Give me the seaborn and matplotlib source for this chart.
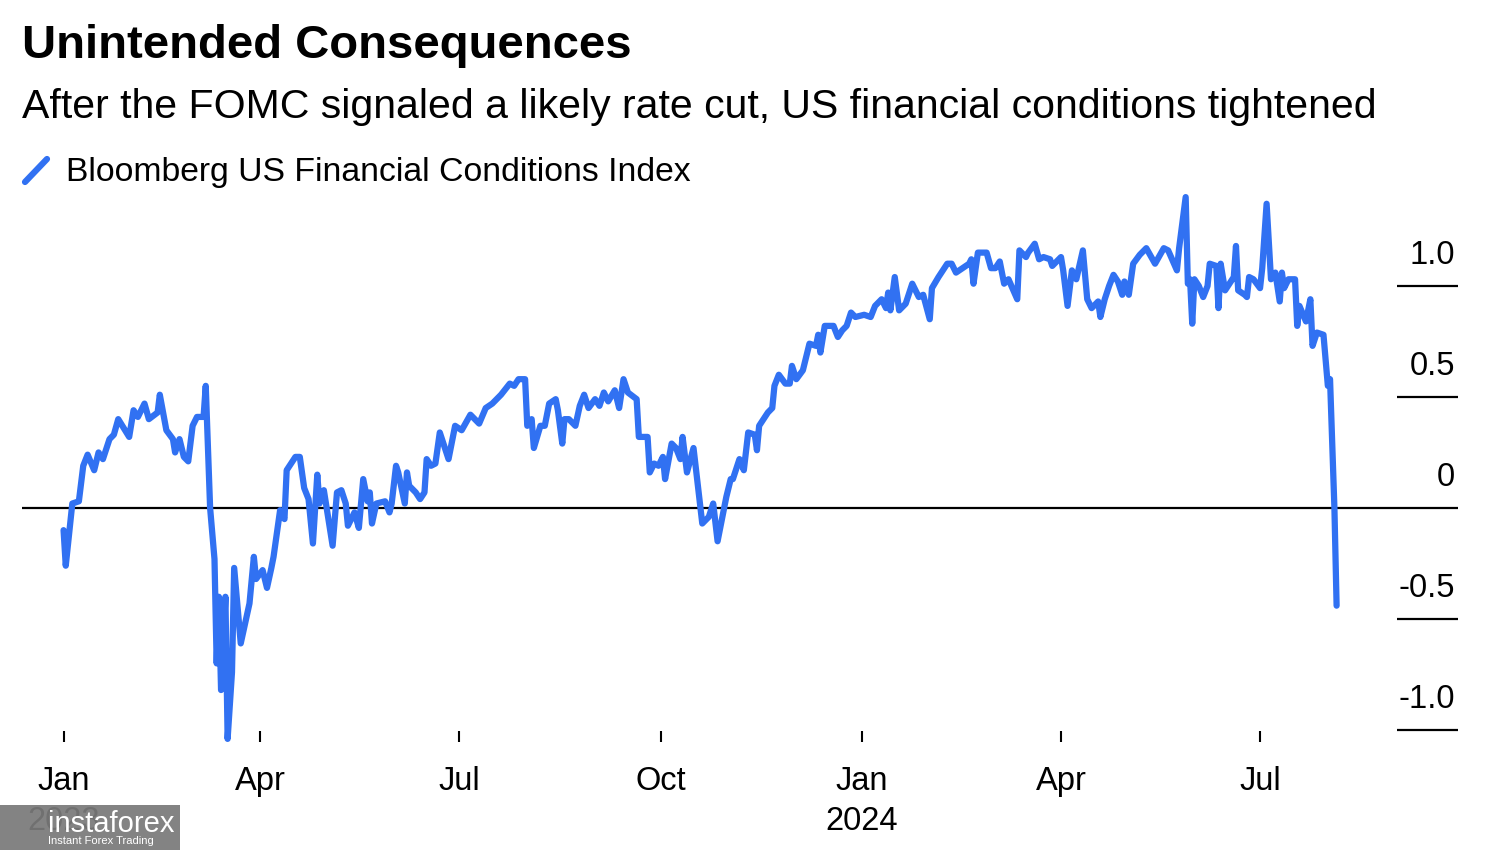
import matplotlib
matplotlib.use("Agg")
import matplotlib.pyplot as plt
import matplotlib.transforms as mtransforms
from matplotlib.lines import Line2D
from matplotlib.patches import Rectangle
import seaborn as sns
import pandas as pd

# ---------------- data ----------------
dates = [
    "2023-01-01", "2023-01-02", "2023-01-05", "2023-01-08", "2023-01-10", "2023-01-12",
    "2023-01-15", "2023-01-17", "2023-01-19", "2023-01-22", "2023-01-24", "2023-01-26",
    "2023-01-31", "2023-02-02", "2023-02-04", "2023-02-07", "2023-02-09", "2023-02-13",
    "2023-02-14", "2023-02-17", "2023-02-20", "2023-02-21", "2023-02-23", "2023-02-25",
    "2023-02-27", "2023-03-01", "2023-03-03", "2023-03-06", "2023-03-07", "2023-03-09",
    "2023-03-11", "2023-03-12", "2023-03-13", "2023-03-14", "2023-03-16", "2023-03-17",
    "2023-03-19", "2023-03-20", "2023-03-23", "2023-03-27", "2023-03-29", "2023-03-30",
    "2023-04-02", "2023-04-04", "2023-04-06", "2023-04-07", "2023-04-10", "2023-04-12",
    "2023-04-13", "2023-04-17", "2023-04-19", "2023-04-21", "2023-04-23", "2023-04-25",
    "2023-04-27", "2023-04-28", "2023-04-30", "2023-05-04", "2023-05-06", "2023-05-08",
    "2023-05-10", "2023-05-11", "2023-05-14", "2023-05-16", "2023-05-18", "2023-05-20",
    "2023-05-21", "2023-05-22", "2023-05-24", "2023-05-28", "2023-05-30", "2023-05-31",
    "2023-06-02", "2023-06-03", "2023-06-06", "2023-06-07", "2023-06-08", "2023-06-11",
    "2023-06-13", "2023-06-15", "2023-06-16", "2023-06-18", "2023-06-20", "2023-06-22",
    "2023-06-26", "2023-06-29", "2023-07-02", "2023-07-06", "2023-07-10", "2023-07-13",
    "2023-07-16", "2023-07-20", "2023-07-24", "2023-07-26", "2023-07-28", "2023-07-31",
    "2023-08-01", "2023-08-03", "2023-08-04", "2023-08-07", "2023-08-09", "2023-08-11",
    "2023-08-14", "2023-08-15", "2023-08-17", "2023-08-18", "2023-08-20", "2023-08-23",
    "2023-08-25", "2023-08-27", "2023-08-29", "2023-09-01", "2023-09-03", "2023-09-05",
    "2023-09-07", "2023-09-10", "2023-09-12", "2023-09-14", "2023-09-16", "2023-09-20",
    "2023-09-21", "2023-09-25", "2023-09-26", "2023-09-28", "2023-09-30", "2023-10-02",
    "2023-10-03", "2023-10-06", "2023-10-08", "2023-10-10", "2023-10-11", "2023-10-13",
    "2023-10-16", "2023-10-20", "2023-10-23", "2023-10-25", "2023-10-27", "2023-10-31",
    "2023-11-02", "2023-11-03", "2023-11-06", "2023-11-08", "2023-11-10", "2023-11-13",
    "2023-11-14", "2023-11-15", "2023-11-19", "2023-11-21", "2023-11-22", "2023-11-24",
    "2023-11-27", "2023-11-29", "2023-11-30", "2023-12-02", "2023-12-05", "2023-12-08",
    "2023-12-11", "2023-12-12", "2023-12-13", "2023-12-15", "2023-12-19", "2023-12-21",
    "2023-12-23", "2023-12-25", "2023-12-27", "2023-12-29", "2024-01-02", "2024-01-05",
    "2024-01-07", "2024-01-10", "2024-01-12", "2024-01-13", "2024-01-14", "2024-01-16",
    "2024-01-18", "2024-01-21", "2024-01-24", "2024-01-27", "2024-01-29", "2024-02-01",
    "2024-02-02", "2024-02-05", "2024-02-09", "2024-02-11", "2024-02-13", "2024-02-16",
    "2024-02-19", "2024-02-20", "2024-02-21", "2024-02-23", "2024-02-27", "2024-02-29",
    "2024-03-02", "2024-03-04", "2024-03-06", "2024-03-08", "2024-03-12", "2024-03-13",
    "2024-03-16", "2024-03-17", "2024-03-20", "2024-03-22", "2024-03-24", "2024-03-27",
    "2024-03-28", "2024-04-01", "2024-04-02", "2024-04-04", "2024-04-06", "2024-04-08",
    "2024-04-11", "2024-04-13", "2024-04-15", "2024-04-18", "2024-04-19", "2024-04-21",
    "2024-04-23", "2024-04-25", "2024-04-27", "2024-04-29", "2024-04-30", "2024-05-02",
    "2024-05-04", "2024-05-07", "2024-05-10", "2024-05-14", "2024-05-18", "2024-05-20",
    "2024-05-24", "2024-05-25", "2024-05-28", "2024-05-29", "2024-05-30", "2024-05-31",
    "2024-06-01", "2024-06-03", "2024-06-05", "2024-06-07", "2024-06-08", "2024-06-11",
    "2024-06-12", "2024-06-13", "2024-06-15", "2024-06-17", "2024-06-19", "2024-06-20",
    "2024-06-21", "2024-06-24", "2024-06-25", "2024-06-26", "2024-06-28", "2024-07-01",
    "2024-07-02", "2024-07-04", "2024-07-06", "2024-07-08", "2024-07-10", "2024-07-11",
    "2024-07-12", "2024-07-14", "2024-07-17", "2024-07-18", "2024-07-19", "2024-07-22",
    "2024-07-24", "2024-07-25", "2024-07-27", "2024-07-30", "2024-08-01", "2024-08-02",
    "2024-08-04", "2024-08-05",
]

fci_values = [
    -0.10, -0.26, 0.02, 0.03, 0.19, 0.24,
    0.17, 0.25, 0.22, 0.31, 0.33, 0.40,
    0.32, 0.44, 0.41, 0.47, 0.40, 0.43,
    0.51, 0.35, 0.31, 0.25, 0.31, 0.23,
    0.21, 0.37, 0.41, 0.41, 0.55, 0.00,
    -0.23, -0.70, -0.40, -0.82, -0.40, -1.04,
    -0.74, -0.27, -0.61, -0.43, -0.22, -0.32,
    -0.28, -0.36, -0.27, -0.22, -0.01, -0.05,
    0.17, 0.23, 0.23, 0.09, 0.04, -0.16,
    0.15, 0.02, 0.08, -0.17, 0.07, 0.08,
    0.02, -0.08, -0.02, -0.09, 0.13, 0.03,
    0.07, -0.07, 0.02, 0.03, -0.02, 0.02,
    0.19, 0.16, 0.02, 0.16, 0.10, 0.07,
    0.04, 0.07, 0.22, 0.19, 0.20, 0.34,
    0.22, 0.37, 0.35, 0.42, 0.38, 0.45,
    0.47, 0.51, 0.56, 0.55, 0.58, 0.58,
    0.37, 0.40, 0.27, 0.37, 0.37, 0.47,
    0.49, 0.44, 0.29, 0.40, 0.40, 0.37,
    0.46, 0.51, 0.45, 0.49, 0.46, 0.52,
    0.48, 0.53, 0.45, 0.58, 0.52, 0.49,
    0.32, 0.32, 0.16, 0.20, 0.19, 0.23,
    0.13, 0.29, 0.27, 0.22, 0.32, 0.16,
    0.27, -0.07, -0.04, 0.02, -0.15, 0.05,
    0.13, 0.13, 0.22, 0.17, 0.34, 0.33,
    0.26, 0.37, 0.43, 0.45, 0.55, 0.60,
    0.56, 0.56, 0.64, 0.58, 0.62, 0.74,
    0.73, 0.78, 0.70, 0.82, 0.82, 0.77,
    0.80, 0.82, 0.88, 0.86, 0.87, 0.86,
    0.91, 0.94, 0.90, 0.97, 0.89, 1.04,
    0.89, 0.92, 1.01, 0.95, 0.96, 0.85,
    0.99, 1.04, 1.10, 1.10, 1.06, 1.08,
    1.10, 1.12, 1.01, 1.15, 1.15, 1.08,
    1.08, 1.11, 1.01, 1.03, 0.94, 1.16,
    1.13, 1.15, 1.19, 1.12, 1.13, 1.12,
    1.09, 1.13, 1.07, 0.91, 1.07, 1.03,
    1.16, 0.94, 0.90, 0.93, 0.86, 0.94,
    1.00, 1.05, 1.02, 0.96, 1.02, 0.96,
    1.10, 1.14, 1.17, 1.10, 1.17, 1.16,
    1.07, 1.17, 1.40, 1.01, 1.03, 0.83,
    1.03, 1.00, 0.95, 1.00, 1.10, 1.09,
    0.90, 1.10, 0.98, 1.01, 1.04, 1.18,
    0.98, 0.96, 0.95, 1.04, 1.03, 0.99,
    1.08, 1.37, 1.03, 1.06, 0.93, 1.06,
    0.99, 1.03, 1.03, 0.82, 0.91, 0.84,
    0.94, 0.73, 0.79, 0.78, 0.55, 0.58,
    0.00, -0.44,
]

title = "Unintended Consequences"
subtitle = "After the FOMC signaled a likely rate cut, US financial conditions tightened"
series_name = "Bloomberg US Financial Conditions Index"

y_ticks = [1.0, 0.5, 0.0, -0.5, -1.0]
y_tick_labels = ["1.0", "0.5", "0", "-0.5", "-1.0"]

x_tick_dates = ["2023-01-01", "2023-04-01", "2023-07-01", "2023-10-01",
                "2024-01-01", "2024-04-01", "2024-07-01"]
x_tick_labels = ["Jan", "Apr", "Jul", "Oct", "Jan", "Apr", "Jul"]
year_label_dates = ["2023-01-01", "2024-01-01"]
year_labels = ["2023", "2024"]

BLUE = "#3171F2"

# ---------------- styling ----------------
sns.set_theme(style="white")
plt.rcParams["font.family"] = ["Liberation Sans", "DejaVu Sans"]

W, H = 1500, 850
fig = plt.figure(figsize=(15, 8.5), dpi=100)
fig.patch.set_facecolor("white")

ax_left, ax_right, ax_top, ax_bottom = 22, 1458, 186, 742
ax = fig.add_axes([ax_left / W, 1 - ax_bottom / H,
                   (ax_right - ax_left) / W, (ax_bottom - ax_top) / H])
ax.set_facecolor("white")

df = pd.DataFrame({"date": pd.to_datetime(dates), "value": fci_values})
sns.lineplot(data=df, x="date", y="value", ax=ax, color=BLUE,
             linewidth=4.5, zorder=3, solid_joinstyle="round", solid_capstyle="round")

ax.set_xlim(pd.Timestamp("2022-12-13"), pd.Timestamp("2024-09-29 12:00"))
ax.set_ylim(-1.054, 1.45)

for s in ax.spines.values():
    s.set_visible(False)
ax.grid(False)
ax.set_xlabel("")
ax.set_ylabel("")

# zero line
ax.axhline(0, color="black", lw=1.6, zorder=2)

# x ticks
tick_dt = pd.to_datetime(x_tick_dates)
ax.set_xticks(tick_dt)
ax.set_xticklabels(x_tick_labels, fontsize=23.5, color="black")
ax.tick_params(axis="x", direction="in", length=8, width=1.5, color="black",
               pad=17, bottom=True)
ax.set_yticks([])

# year labels under the month labels
trans_x = mtransforms.blended_transform_factory(ax.transData, fig.transFigure)
for d, lab in zip(pd.to_datetime(year_label_dates), year_labels):
    ax.text(d, 1 - 822 / H, lab, transform=trans_x, ha="center", va="center",
            fontsize=23.5, color="black")

# y ticks: short lines on the right with labels above
trans_y = mtransforms.blended_transform_factory(ax.transAxes, ax.transData)
x0 = (1397 - ax_left) / (ax_right - ax_left)
for v, lab in zip(y_ticks, y_tick_labels):
    if v != 0:
        ax.plot([x0, 1.0], [v, v], transform=trans_y, color="black", lw=1.6,
                zorder=2, solid_capstyle="butt")
    ax.annotate(lab, xy=(1.0, v), xycoords=trans_y, xytext=(-2, 11),
                textcoords="offset points", ha="right", va="bottom",
                fontsize=23.5, color="black")

# title / subtitle
fig.text(22 / W, 1 - 46 / H, title, fontsize=34, fontweight="bold",
         ha="left", va="center", color="black")
fig.text(22 / W, 1 - 107 / H, subtitle, fontsize=29.5,
         ha="left", va="center", color="black")

# legend
fig.add_artist(Line2D([25 / W, 47 / W], [1 - 182 / H, 1 - 159 / H],
                      transform=fig.transFigure, color=BLUE, lw=4.5,
                      solid_capstyle="round"))
fig.text(66 / W, 1 - 173 / H, series_name, fontsize=24.3,
         ha="left", va="center", color="black")

# watermark box (as in the reference image)
fig.add_artist(Rectangle((0, 0), 180 / W, 45 / H, transform=fig.transFigure,
                         facecolor="#7a7a7a", edgecolor="none", alpha=0.93, zorder=10))
fig.text(48 / W, 1 - 824 / H, "instaforex", fontsize=21, color="white",
         ha="left", va="center", zorder=11)
fig.text(48 / W, 1 - 841 / H, "Instant Forex Trading", fontsize=8, color="white",
         ha="left", va="center", zorder=11)

fig.savefig("out.png", dpi=100, facecolor="white")
